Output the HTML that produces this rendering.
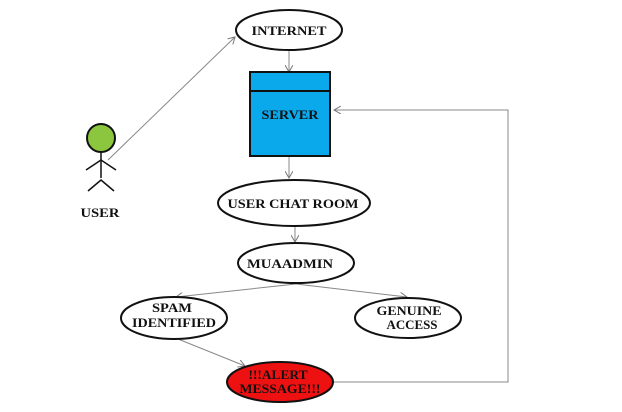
<!DOCTYPE html>
<html><head><style>body{margin:0;background:#fff}svg{display:block}text{font-family:"Liberation Serif",serif;font-weight:bold;font-size:13px;text-anchor:middle;fill:#111}</style></head>
<body>
<svg width="622" height="412" viewBox="0 0 622 412">
<defs><marker id="a" markerWidth="8" markerHeight="8" refX="7" refY="4" orient="auto" markerUnits="userSpaceOnUse"><path d="M0,0 L7,4 L0,8" fill="none" stroke="#777" stroke-width="1"/></marker></defs>
<g stroke="#888" stroke-width="1" fill="none" marker-end="url(#a)">
<line x1="108" y1="160" x2="235" y2="37"/>
<line x1="289" y1="50" x2="289" y2="72"/>
<line x1="289" y1="156" x2="289" y2="178"/>
<line x1="295" y1="226" x2="295" y2="242"/>
<line x1="296" y1="284" x2="176" y2="297"/>
<line x1="296" y1="284" x2="407" y2="297"/>
<line x1="178" y1="339" x2="245" y2="366"/>
<polyline points="333,382 508,382 508,110 334,110"/>
</g>
<g stroke="#111" stroke-width="2">
<ellipse cx="289" cy="30" rx="53" ry="20" fill="#fff"/>
<rect x="250" y="72" width="80" height="84" fill="#0aa9ec"/>
<line x1="250" y1="91" x2="330" y2="91"/>
<ellipse cx="294" cy="203" rx="76" ry="23" fill="#fff"/>
<ellipse cx="296" cy="263" rx="58" ry="20" fill="#fff"/>
<ellipse cx="174" cy="318" rx="53" ry="21" fill="#fff"/>
<ellipse cx="408" cy="318" rx="53" ry="20" fill="#fff"/>
<ellipse cx="280" cy="382" rx="53" ry="20" fill="#ee1111"/>
<circle cx="101" cy="138" r="14" fill="#8cc63e"/>
<line x1="101" y1="152" x2="101" y2="178" stroke-width="1.5"/>
<polyline points="86,170 101,160 116,170" fill="none" stroke-width="1.5"/>
<polyline points="88,191 101,180 114,191" fill="none" stroke-width="1.5"/>
</g>
<g lengthAdjust="spacingAndGlyphs">
<text x="289" y="35" textLength="75" lengthAdjust="spacingAndGlyphs">INTERNET</text>
<text x="290" y="119" fill="#0a3a5a" textLength="57" lengthAdjust="spacingAndGlyphs">SERVER</text>
<text x="293" y="208" textLength="131" lengthAdjust="spacingAndGlyphs">USER CHAT ROOM</text>
<text x="290" y="268" textLength="86" lengthAdjust="spacingAndGlyphs">MUAADMIN</text>
<text x="172" y="312" textLength="40" lengthAdjust="spacingAndGlyphs">SPAM</text>
<text x="174" y="327" textLength="84" lengthAdjust="spacingAndGlyphs">IDENTIFIED</text>
<text x="409" y="315" textLength="65" lengthAdjust="spacingAndGlyphs">GENUINE</text>
<text x="412" y="329" textLength="51" lengthAdjust="spacingAndGlyphs">ACCESS</text>
<text x="278" y="379" fill="#551111" textLength="59" lengthAdjust="spacingAndGlyphs">!!!ALERT</text>
<text x="280" y="393" fill="#551111" textLength="81" lengthAdjust="spacingAndGlyphs">MESSAGE!!!</text>
<text x="100" y="217" textLength="39" lengthAdjust="spacingAndGlyphs">USER</text>
</g>
</svg>
</body></html>
